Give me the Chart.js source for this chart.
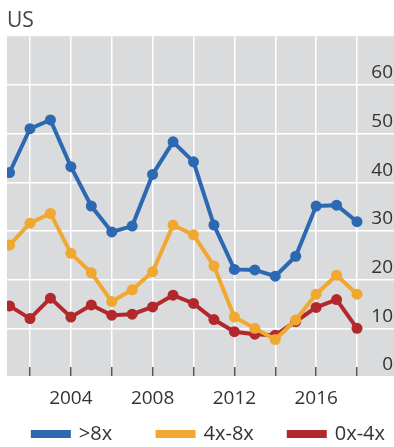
<!DOCTYPE html>
<html>
<head>
<meta charset="utf-8">
<script src="https://cdn.jsdelivr.net/npm/chart.js@4/dist/chart.umd.min.js"></script>
<style>
    html, body { margin: 0; padding: 0; background: #ffffff; }
    #wrap { width: 394px; height: 447px; }
</style>
</head>
<body>
<div id="wrap"><canvas id="usChart"></canvas></div>
<script>
// data
var years = [2001, 2002, 2003, 2004, 2005, 2006, 2007, 2008, 2009,
             2010, 2011, 2012, 2013, 2014, 2015, 2016, 2017, 2018];
var over8x = [42, 51, 52.8, 43.2, 35.1, 29.8, 31, 41.6, 48.3,
              44.2, 31.2, 22.1, 22, 20.7, 24.8, 35.1, 35.3, 31.9];
var from4to8x = [27.1, 31.6, 33.6, 25.4, 21.4, 15.5, 17.9, 21.6, 31.2,
                 29.2, 22.8, 12.3, 10, 7.7, 11.7, 17, 20.9, 17];
var from0to4x = [14.6, 12, 16.2, 12.3, 14.8, 12.7, 12.9, 14.4, 16.8,
                 15.1, 11.8, 9.3, 8.8, 8.6, 11.4, 14.3, 15.9, 10];
var seriesNames = ['>8x', '4x-8x', '0x-4x'];
var seriesColors = ['#2c69b2', '#f0a830', '#b2282c'];
var xTicks = [2002, 2004, 2006, 2008, 2010, 2012, 2014, 2016, 2018];
var yTicks = [0, 10, 20, 30, 40, 50, 60];

var font = '"Open Sans", sans-serif';
var textColor = '#333333';
// extra room after each legend entry (the legend spreads them wider than Chart.js does)
var legendGaps = ['       ', '     ', ''];

function toPoints(values) {
    return values.map(function (v, i) { return { x: years[i], y: v }; });
}

function makeDataset(i, values) {
    return {
        label: seriesNames[i],
        data: toPoints(values),
        borderColor: seriesColors[i],
        backgroundColor: seriesColors[i],
        pointBackgroundColor: seriesColors[i],
        pointBorderColor: seriesColors[i],
        borderWidth: 4,
        pointRadius: 5.5,
        pointBorderWidth: 0,
        tension: 0,
        clip: 0
    };
}

// grey plot background
var plotBackground = {
    id: 'plotBackground',
    beforeDraw: function (chart) {
        var a = chart.chartArea;
        var ctx = chart.ctx;
        ctx.save();
        ctx.fillStyle = '#dadbdd';
        ctx.fillRect(a.left, a.top, a.right - a.left, a.bottom - a.top);
        ctx.restore();
    }
};

var ctx = document.getElementById('usChart').getContext('2d');

var usChart = new Chart(ctx, {
    type: 'line',
    data: {
        datasets: [
            makeDataset(0, over8x),
            makeDataset(1, from4to8x),
            makeDataset(2, from0to4x)
        ]
    },
    plugins: [plotBackground],
    options: {
        responsive: true,
        maintainAspectRatio: false,
        animation: false,
        layout: {
            autoPadding: false,
            padding: { left: 7, right: 0, top: 0, bottom: -7 }
        },
        plugins: {
            title: {
                display: true,
                text: 'US',
                align: 'start',
                color: '#444444',
                font: { family: font, size: 21, weight: 'normal', lineHeight: 1.2 },
                padding: { top: 8, bottom: 3 }
            },
            legend: {
                position: 'bottom',
                align: 'end',
                labels: {
                    color: textColor,
                    font: { family: font, size: 20 },
                    boxWidth: 36,
                    boxHeight: 4,
                    padding: 9,
                    generateLabels: function (chart) {
                        var items = Chart.defaults.plugins.legend.labels.generateLabels(chart);
                        items.forEach(function (item, i) {
                            item.text = item.text + legendGaps[i];
                        });
                        return items;
                    }
                }
            },
            tooltip: { enabled: false }
        },
        scales: {
            x: {
                type: 'linear',
                min: 2000.875,
                max: 2019.81,
                afterBuildTicks: function (scale) {
                    scale.ticks = xTicks.map(function (v) { return { value: v }; });
                },
                afterFit: function (scale) {
                    scale.height = 38;
                },
                border: { display: false },
                grid: {
                    color: '#ffffff',
                    lineWidth: 1.5,
                    drawTicks: true,
                    tickLength: -10,
                    tickColor: '#555555',
                    tickWidth: 1.5
                },
                ticks: {
                    autoSkip: false,
                    maxRotation: 0,
                    padding: 0,
                    color: textColor,
                    font: { family: font, size: 19, lineHeight: 3.3 },
                    callback: function (v) {
                        return v % 4 === 0 ? String(v) : '';
                    }
                }
            },
            y: {
                position: 'right',
                min: 0,
                max: 70,
                afterBuildTicks: function (scale) {
                    scale.ticks = yTicks.map(function (v) { return { value: v }; });
                },
                afterFit: function (scale) {
                    scale.width = 0;
                },
                border: { display: false },
                grid: {
                    color: '#ffffff',
                    lineWidth: 1.5,
                    drawTicks: false
                },
                ticks: {
                    mirror: true,
                    padding: -1,
                    labelOffset: -12,
                    color: textColor,
                    font: { family: font, size: 19 }
                }
            }
        }
    }
});
</script>
</body>
</html>
